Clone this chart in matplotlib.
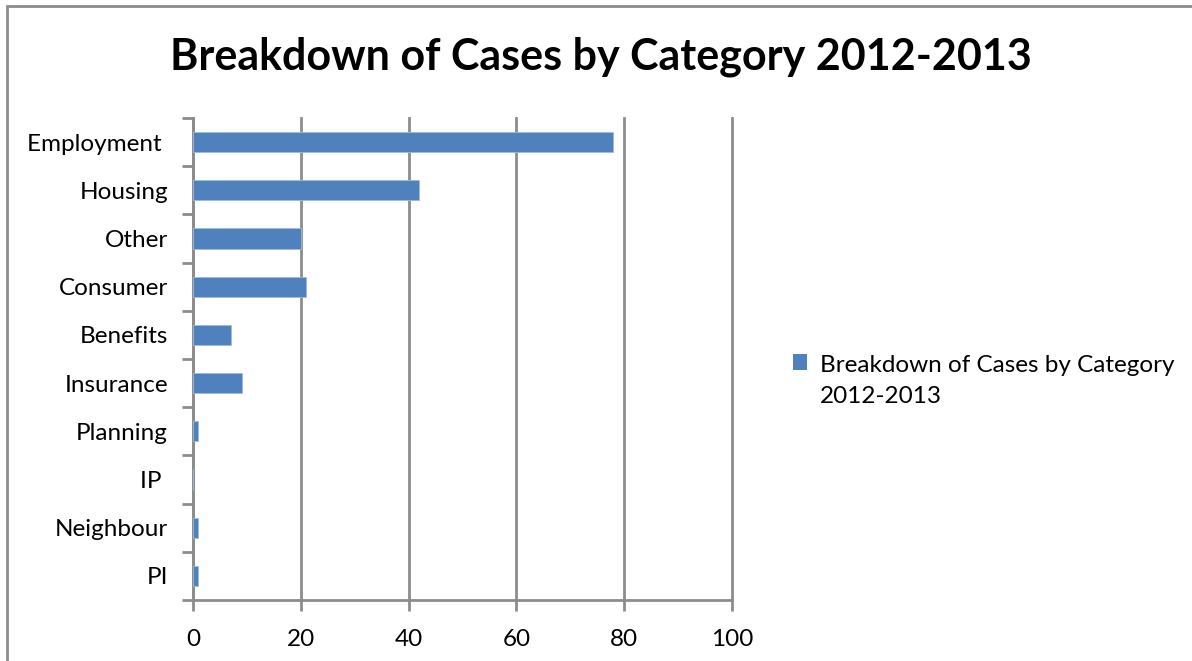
import numpy as np
import matplotlib.pyplot as plt
from matplotlib.patches import Rectangle
from matplotlib.legend_handler import HandlerPatch

categories = ['Employment ', 'Housing', 'Other', 'Consumer', 'Benefits',
              'Insurance', 'Planning', 'IP ', 'Neighbour', 'PI']
cases = [78, 42, 20, 21, 7, 9, 1, 0, 1, 1]
series_name = 'Breakdown of Cases by Category\n2012-2013'
title = 'Breakdown of Cases by Category 2012-2013'
xticks = [0, 20, 40, 60, 80, 100]

plt.rcParams['font.family'] = ['Lato', 'DejaVu Sans']

fig = plt.figure(figsize=(11.92, 6.61), dpi=100)
ax = fig.add_axes([193/1192, 1-600/661, (732-193)/1192, (600-118)/661])

grey = '#8c8c8c'
bar_color = '#4f81bd'
y = np.arange(len(categories))
ax.barh(y, cases, height=0.42, color=bar_color, edgecolor='#9dbbe0',
        linewidth=0.6, zorder=3)

ax.set_xlim(0, 100)
ax.set_ylim(len(categories) - 0.5, -0.5)
ax.set_xticks(xticks)
ax.set_xticklabels([str(v) for v in xticks], fontsize=17.5)
ax.set_yticks(y)
ax.set_yticklabels(categories, fontsize=17.5)
ax.set_yticks(np.arange(len(categories) + 1) - 0.5, minor=True)
ax.tick_params(axis='y', which='major', length=0, pad=18)
ax.tick_params(axis='y', which='minor', length=8, width=2, color=grey)
ax.tick_params(axis='x', length=8, width=2, color=grey, pad=13)

ax.grid(axis='x', color=grey, linewidth=2, zorder=0)
for line in ax.get_xgridlines():
    line.set_clip_on(False)
for s in ['top', 'right']:
    ax.spines[s].set_visible(False)
for s in ['left', 'bottom']:
    ax.spines[s].set_color(grey)
    ax.spines[s].set_linewidth(2)

fig.text(601/1192, 1-57/661, title, ha='center', va='center', fontsize=31, fontweight='bold')


# legend square sits level with the first line of the label, like excel
def top_square(legend, orig_handle, xdescent, ydescent, width, height, fontsize):
    return Rectangle((-xdescent, -ydescent + 0.78 * fontsize), width, height)


proxy = Rectangle((0, 0), 1, 1, facecolor=bar_color, edgecolor='none')
leg = fig.legend([proxy], [series_name], loc='upper left',
                 bbox_to_anchor=(771/1192, 1-333/661), frameon=False,
                 fontsize=17.5, handlelength=0.6, handleheight=0.6, handletextpad=0.5,
                 handler_map={Rectangle: HandlerPatch(patch_func=top_square)})
for t in leg.get_texts():
    t.set_linespacing(1.6)

# outer chart frame
fig.patches.append(Rectangle((7/1192, -0.1), 1.2, 1-6/661+0.1, transform=fig.transFigure,
                             fill=False, edgecolor=grey, linewidth=2))

fig.savefig('out.png', dpi=100)
